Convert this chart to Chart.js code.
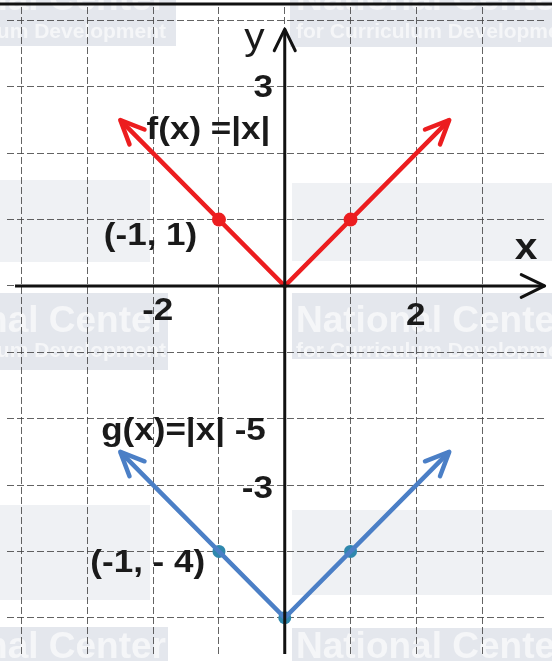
<!DOCTYPE html>
<html>
<head>
<meta charset="utf-8">
<script src="https://cdn.jsdelivr.net/npm/chart.js@4.4.0/dist/chart.umd.min.js"></script>
<style>
  html, body { margin: 0; padding: 0; background: #ffffff; }
  #wrap { width: 552px; height: 661px; position: relative; }
  canvas { display: block; }
</style>
</head>
<body>
<div id="wrap"><canvas id="c" width="552" height="661"></canvas></div>
<script>
// ---- data ----
const fLine = [ {x: -2.5, y: 2.5}, {x: 0, y: 0}, {x: 2.5, y: 2.5} ];
const fPoints = [ {x: -1, y: 1}, {x: 1, y: 1} ];
const gLine = [ {x: -2.5, y: -2.5}, {x: 0, y: -5}, {x: 2.5, y: -2.5} ];
const gPoints = [ {x: -1, y: -4}, {x: 1, y: -4}, {x: 0, y: -5} ];
const xAxisLine = [ {x: -4.1, y: 0}, {x: 3.95, y: 0} ];
const yAxisLine = [ {x: 0, y: -5.7}, {x: 0, y: 3.87} ];
const xTickLabels = [ {text: '-2', x: -1.93, y: -0.52}, {text: '2', x: 1.99, y: -0.59} ];
const yTickLabels = [ {text: '3', x: -0.18, y: 2.85}, {text: '-3', x: -0.18, y: -3.2} ];
const textLabels = [
  {text: 'f(x) =|x|', x: -2.1, y: 2.21, align: 'left'},
  {text: '(-1, 1)', x: -1.33, y: 0.62, align: 'right'},
  {text: 'g(x)=|x| -5', x: -2.79, y: -2.32, align: 'left'},
  {text: '(-1, - 4)', x: -1.21, y: -4.31, align: 'right'}
];
const axisNames = [ {text: 'y', x: -0.46, y: 3.57, bold: false}, {text: 'x', x: 3.67, y: 0.4, bold: true} ];

const RED = '#ec1d1f';
const BLUE = '#4b7fc6';
const TEAL = '#2f88ad';
const STRETCH = 1.13;

// watermark decoration (background, pixel-based)
const watermark = {
  id: 'watermark',
  beforeDraw(chart) {
    const ctx = chart.ctx;
    ctx.save();
    ctx.fillStyle = '#e4e7ed';
    const boxes = [
      [0, 0, 176, 46], [290, 0, 262, 47],
      [0, 293, 168, 77], [292, 293, 260, 66],
      [0, 627, 168, 34], [292, 628, 260, 33]
    ];
    boxes.forEach(b => ctx.fillRect(b[0], b[1], b[2], b[3]));
    // faint logo blocks
    ctx.fillStyle = 'rgba(215,219,227,0.4)';
    [[0, 180, 150, 82], [292, 183, 260, 78], [0, 505, 150, 95], [292, 510, 260, 85]].forEach(b => ctx.fillRect(b[0], b[1], b[2], b[3]));
    ctx.fillStyle = '#f5f6f8';
    ctx.font = 'bold 37px "Liberation Sans", Arial, sans-serif';
    ctx.textBaseline = 'alphabetic';
    ctx.save();
    ctx.beginPath();
    boxes.forEach(b => ctx.rect(b[0], b[1], b[2], b[3]));
    ctx.clip();
    ctx.textAlign = 'right';
    ctx.fillText('National Center', 166, 10);
    ctx.fillText('National Center', 166, 332);
    ctx.fillText('National Center', 166, 658);
    ctx.textAlign = 'left';
    ctx.fillText('National Center', 296, 10);
    ctx.fillText('National Center', 296, 332);
    ctx.fillText('National Center', 296, 658);
    ctx.font = 'bold 21px "Liberation Sans", Arial, sans-serif';
    ctx.textAlign = 'right';
    ctx.fillText('for Curriculum Development', 166, 38);
    ctx.fillText('for Curriculum Development', 166, 357);
    ctx.textAlign = 'left';
    ctx.fillText('for Curriculum Development', 296, 38);
    ctx.fillText('for Curriculum Development', 296, 357);
    ctx.restore();
    ctx.restore();
  }
};

function drawChevron(ctx, tip, from, len, angleDeg, color, width) {
  const a = Math.atan2(from.y - tip.y, from.x - tip.x);
  const d = angleDeg * Math.PI / 180;
  ctx.save();
  ctx.strokeStyle = color;
  ctx.lineWidth = width;
  ctx.lineCap = 'round';
  ctx.lineJoin = 'round';
  ctx.beginPath();
  ctx.moveTo(tip.x + len * Math.cos(a + d), tip.y + len * Math.sin(a + d));
  ctx.lineTo(tip.x, tip.y);
  ctx.lineTo(tip.x + len * Math.cos(a - d), tip.y + len * Math.sin(a - d));
  ctx.stroke();
  ctx.restore();
}

function stretchedText(ctx, text, px, py, align) {
  const w = ctx.measureText(text).width * STRETCH;
  let left = px;
  if (align === 'right') left = px - w;
  else if (align === 'center') left = px - w / 2;
  ctx.save();
  ctx.translate(left, py);
  ctx.scale(STRETCH, 1);
  ctx.textAlign = 'left';
  ctx.fillText(text, 0, 0);
  ctx.restore();
}

const overlay = {
  id: 'overlay',
  afterDatasetsDraw(chart) {
    const ctx = chart.ctx;
    const xs = chart.scales.x, ys = chart.scales.y;
    // arrowheads
    chart.data.datasets.forEach((ds, i) => {
      if (!ds.arrows) return;
      const pts = chart.getDatasetMeta(i).data;
      const n = pts.length;
      if (ds.arrows.start) drawChevron(ctx, pts[0], pts[1], ds.arrows.len, ds.arrows.ang, ds.borderColor, ds.arrows.w);
      if (ds.arrows.end) drawChevron(ctx, pts[n - 1], pts[n - 2], ds.arrows.len, ds.arrows.ang, ds.borderColor, ds.arrows.w);
    });
    // top border line
    ctx.save();
    ctx.strokeStyle = '#111';
    ctx.lineWidth = 3;
    ctx.beginPath(); ctx.moveTo(0, 4); ctx.lineTo(552, 4); ctx.stroke();
    ctx.restore();
    // texts
    ctx.save();
    ctx.fillStyle = '#1a1a1a';
    ctx.textBaseline = 'alphabetic';
    ctx.font = 'bold 31px "Liberation Sans", Arial, sans-serif';
    xTickLabels.forEach(t => stretchedText(ctx, t.text, xs.getPixelForValue(t.x), ys.getPixelForValue(t.y), 'center'));
    yTickLabels.forEach(t => stretchedText(ctx, t.text, xs.getPixelForValue(t.x), ys.getPixelForValue(t.y), 'right'));
    textLabels.forEach(t => stretchedText(ctx, t.text, xs.getPixelForValue(t.x), ys.getPixelForValue(t.y), t.align));
    axisNames.forEach(t => {
      ctx.font = (t.bold ? 'bold ' : '') + '36px "Liberation Sans", Arial, sans-serif';
      stretchedText(ctx, t.text, xs.getPixelForValue(t.x), ys.getPixelForValue(t.y), 'center');
    });
    ctx.restore();
  }
};

new Chart(document.getElementById('c'), {
  type: 'scatter',
  data: {
    datasets: [
      { data: xAxisLine, showLine: true, borderColor: '#111', borderWidth: 3, pointRadius: 0, arrows: {end: true, len: 26, ang: 26, w: 3} },
      { data: yAxisLine, showLine: true, borderColor: '#111', borderWidth: 3, pointRadius: 0, arrows: {end: true, len: 24, ang: 26, w: 3} },
      { data: fLine, showLine: true, borderColor: RED, borderWidth: 4.5, pointRadius: 0, arrows: {start: true, end: true, len: 26, ang: 24, w: 4.5} },
      { data: gLine, showLine: true, borderColor: BLUE, borderWidth: 4.5, pointRadius: 0, arrows: {start: true, end: true, len: 26, ang: 24, w: 4.5} },
      { data: fPoints, showLine: false, pointRadius: 7, pointBackgroundColor: RED, pointBorderWidth: 0, borderColor: RED },
      { data: gPoints, showLine: false, pointRadius: 6.5, pointBackgroundColor: TEAL, pointBorderWidth: 0, borderColor: TEAL }
    ]
  },
  options: {
    responsive: false,
    animation: false,
    layout: { padding: 0 },
    plugins: { legend: { display: false }, tooltip: { enabled: false } },
    scales: {
      x: {
        type: 'linear', min: -4.222, max: 3.956,
        ticks: { display: false, stepSize: 1, includeBounds: false },
        grid: { color: 'rgba(60,60,60,0.8)', lineWidth: 1, drawTicks: false },
        border: { display: false, dash: [7, 3] }
      },
      y: {
        type: 'linear', min: -5.546, max: 4.204,
        ticks: { display: false, stepSize: 1, includeBounds: false },
        grid: { color: 'rgba(60,60,60,0.8)', lineWidth: 1, drawTicks: false },
        border: { display: false, dash: [7, 3] }
      }
    }
  },
  plugins: [watermark, overlay]
});
</script>
</body>
</html>
